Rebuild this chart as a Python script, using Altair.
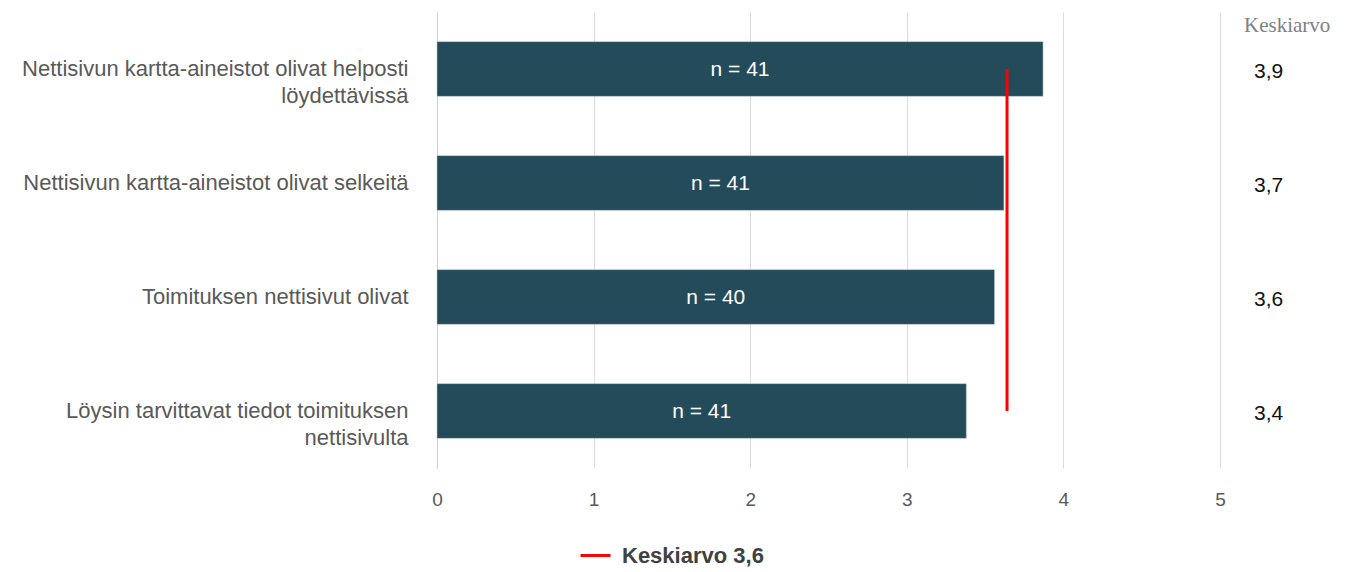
import altair as alt
import pandas as pd

categories = [
    "Nettisivun kartta-aineistot olivat helposti|löydettävissä",
    "Nettisivun kartta-aineistot olivat selkeitä",
    "Toimituksen nettisivut olivat|",
    "Löysin tarvittavat tiedot toimituksen|nettisivulta",
]
bar_values = [3.87, 3.62, 3.56, 3.38]
n_labels = ["n = 41", "n = 41", "n = 40", "n = 41"]
mean_labels = ["3,9", "3,7", "3,6", "3,4"]
overall_mean = 3.64
legend_label = "Keskiarvo 3,6"
header = "Keskiarvo"
x_ticks = [0, 1, 2, 3, 4, 5]

df = pd.DataFrame({
    "cat": categories,
    "value": bar_values,
    "n": n_labels,
    "mean": mean_labels,
})
rule_df = pd.DataFrame({
    "x": [overall_mean],
    "start": [categories[0]],
    "end": [categories[-1]],
    "lbl": [legend_label],
})

FONT = "Liberation Sans"
yscale = alt.Scale(domain=categories, paddingInner=0.52, paddingOuter=0.26)

y_enc = alt.Y(
    "cat:N",
    scale=yscale,
    sort=categories,
    axis=alt.Axis(
        title=None,
        labelExpr="split(datum.label, '|')",
        labelFont=FONT,
        labelFontSize=22,
        labelColor="#595959",
        labelLineHeight=27,
        labelPadding=29,
        labelLimit=600,
        ticks=False,
        domainColor="#c9d0e2",
        domainWidth=1,
        grid=False,
        minExtent=432,
        maxExtent=432,
    ),
)

xscale = alt.Scale(domain=[0, 5], nice=False)
x_axis = alt.Axis(
    title=None,
    values=x_ticks,
    format="d",
    grid=True,
    gridColor="#dcdcdc",
    gridWidth=1,
    domain=False,
    ticks=False,
    labelFlush=False,
    labelFont=FONT,
    labelFontSize=19,
    labelColor="#595959",
    labelPadding=22,
)

bars = alt.Chart(df).mark_bar(color="#244b5a", stroke="#b9c7cc", strokeWidth=0.5).encode(
    x=alt.X("value:Q", scale=xscale, axis=x_axis),
    y=y_enc,
)

nlabels = alt.Chart(df).transform_calculate(half="datum.value / 2").mark_text(
    color="white", font=FONT, fontSize=21, align="center", baseline="middle", dy=1
).encode(
    x=alt.X("half:Q", scale=xscale),
    y=alt.Y("cat:N", scale=yscale, sort=categories),
    text="n:N",
)

rule = alt.Chart(rule_df).mark_rule(strokeWidth=3).encode(
    x=alt.X("x:Q", scale=xscale),
    y=alt.Y("start:N", scale=yscale, sort=categories, bandPosition=0.5),
    y2=alt.Y2("end:N", bandPosition=0.5),
    color=alt.Color(
        "lbl:N",
        scale=alt.Scale(range=["#ff0000"]),
        legend=alt.Legend(
            title=None,
            orient="none",
            legendX=142,
            legendY=527,
            symbolType="stroke",
            symbolStrokeWidth=3,
            symbolSize=900,
            labelFont=FONT,
            labelFontSize=22,
            labelFontWeight="bold",
            labelColor="#404040",
            labelOffset=10,
        ),
    ),
)

left = alt.layer(bars, nlabels, rule).properties(width=783, height=456)

right = alt.Chart(df).mark_text(
    align="left", baseline="middle", font=FONT, fontSize=21, color="#111111", dy=3
).encode(
    y=alt.Y("cat:N", scale=yscale, sort=categories, axis=None),
    text="mean:N",
).properties(
    width=20,
    height=456,
    title=alt.TitleParams(
        header,
        font="Liberation Serif",
        fontSize=21,
        fontWeight="normal",
        color="#7f7f7f",
        anchor="start",
        offset=-24,
    ),
)

chart = alt.hconcat(left, right, spacing=18).properties(
    padding={"left": 5, "top": 12, "right": 5, "bottom": 5},
).configure(background="white").configure_view(stroke=None, strokeWidth=0)

chart.save("out.html", embed_options={"renderer": "svg", "actions": False})
